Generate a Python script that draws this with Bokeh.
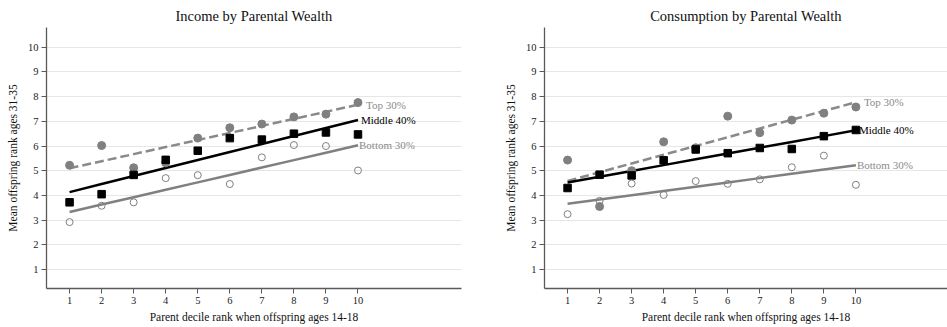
import numpy as np
from bokeh.plotting import figure
from bokeh.layouts import row
from bokeh.models import FixedTicker, Range1d
from bokeh.core.properties import value
from bokeh.embed import file_html
from bokeh.resources import INLINE

# Parent wealth decile (x) and mean offspring rank (y) by offspring group
deciles = [1, 2, 3, 4, 5, 6, 7, 8, 9, 10]

income_top = [5.22, 6.02, 5.12, 5.32, 6.32, 6.74, 6.89, 7.18, 7.29, 7.76]
income_middle = [3.72, 4.05, 4.83, 5.44, 5.81, 6.32, 6.26, 6.50, 6.55, 6.47]
income_bottom = [2.92, 3.58, 3.72, 4.70, 4.82, 4.46, 5.54, 6.04, 6.00, 5.01]

cons_top = [5.43, 3.55, 5.00, 6.17, 5.93, 7.21, 6.54, 7.05, 7.33, 7.58]
cons_middle = [4.30, 4.84, 4.81, 5.42, 5.86, 5.71, 5.92, 5.88, 6.40, 6.65]
cons_bottom = [3.24, 3.78, 4.48, 4.02, 4.58, 4.47, 4.65, 5.14, 5.61, 4.43]

group_labels = ["Top 30%", "Middle 40%", "Bottom 30%"]
y_ticks = [1, 2, 3, 4, 5, 6, 7, 8, 9, 10]

titles = ["Income by Parental Wealth", "Consumption by Parental Wealth"]
x_title = "Parent decile rank when offspring ages 14-18"
y_title = "Mean offspring rank ages 31-35"

FONT = "Liberation Serif"
GRAY = "#808080"
AXIS = "#5a5a5a"


def panel(title, top, mid, bot, width, left, right, x_end):
    p = figure(width=width, height=327, output_backend="svg", toolbar_location=None,
               x_range=Range1d(0.28, x_end), y_range=Range1d(0.23, 10.8),
               min_border_left=left, min_border_right=right,
               min_border_top=27, min_border_bottom=39)
    p.outline_line_color = None
    p.background_fill_color = "white"
    p.border_fill_color = "white"

    p.title.text = title
    p.title.text_font = FONT
    p.title.text_font_size = "14.5px"
    p.title.text_font_style = "normal"
    p.title.text_color = "#111111"
    p.title.align = "center"
    p.title.standoff = 7

    p.xaxis.ticker = FixedTicker(ticks=deciles)
    p.yaxis.ticker = FixedTicker(ticks=y_ticks)
    p.xgrid.visible = False
    p.ygrid.ticker = FixedTicker(ticks=y_ticks)
    p.ygrid.grid_line_color = "#e6e6e6"
    p.ygrid.grid_line_width = 1

    for ax in (p.xaxis[0], p.yaxis[0]):
        ax.axis_line_color = AXIS
        ax.axis_line_width = 1.3
        ax.major_tick_line_color = AXIS
        ax.major_tick_out = 5
        ax.major_tick_in = 0
        ax.minor_tick_line_color = None
        ax.major_label_text_font = FONT
        ax.major_label_text_font_size = "10.5px"
        ax.major_label_text_color = "#222222"
        ax.major_label_standoff = 3
        ax.axis_label_text_font = FONT
        ax.axis_label_text_font_size = "11.5px"
        ax.axis_label_text_font_style = "normal"
        ax.axis_label_text_color = "#111111"
    p.xaxis.axis_label = x_title
    p.yaxis.axis_label = y_title
    p.xaxis.axis_label_standoff = 4
    p.yaxis.axis_label_standoff = 6

    xs = np.array(deciles, dtype=float)
    fits = [np.polyval(np.polyfit(xs, np.array(s), 1), xs) for s in (top, mid, bot)]

    # fitted lines
    p.line(xs, fits[0], line_color="#8a8a8a", line_width=2.5, line_dash="9 4")
    p.line(xs, fits[1], line_color="black", line_width=2.5)
    p.line(xs, fits[2], line_color=GRAY, line_width=2.5)

    # decile means
    p.scatter(xs, top, marker="circle", size=8, fill_color=GRAY, line_color=GRAY)
    p.scatter(xs, mid, marker="square", size=7.5, fill_color="black", line_color="black")
    p.scatter(xs, bot, marker="circle", size=7, fill_color=None, line_color=GRAY, line_width=1)

    # group labels at the end of each fitted line
    colors = ["#8a8a8a", "black", "#8a8a8a"]
    offsets = [8, 3, 1]
    for fit, lab, col, off in zip(fits, group_labels, colors, offsets):
        p.text(x=[xs[-1]], y=[fit[-1]], text=[lab], text_font=value(FONT),
               text_font_size="11px", text_color=col, text_align="left",
               text_baseline="middle", x_offset=off)
    return p


left = panel(titles[0], income_top, income_middle, income_bottom,
             width=478, left=46, right=17, x_end=13.23)
right = panel(titles[1], cons_top, cons_middle, cons_bottom,
              width=469, left=66, right=0, x_end=12.86)
right.title.offset = 6

layout = row(left, right)
open("out.html", "w").write(file_html(layout, INLINE))
